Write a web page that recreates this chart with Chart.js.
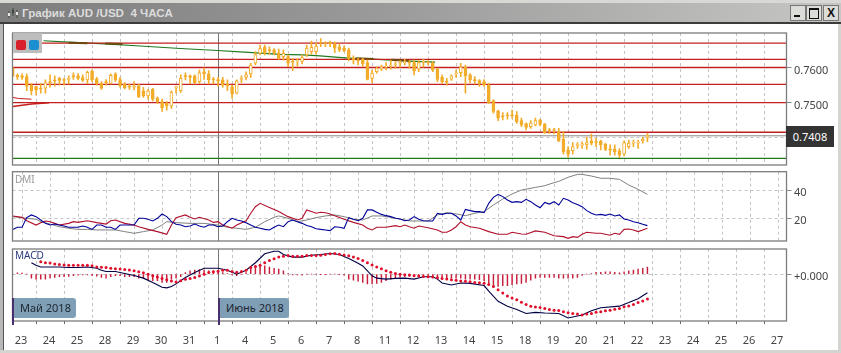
<!DOCTYPE html>
<html><head><meta charset="utf-8">
<script src="https://cdn.jsdelivr.net/npm/chart.js@4"></script>
<style>
html,body{margin:0;padding:0;background:#fff;overflow:hidden}
#w{position:relative;width:841px;height:353px;background:#fff;font-family:"Noto Sans",sans-serif}
canvas{position:absolute;left:0}
.a{position:absolute}
#title{left:0;top:3px;width:841px;height:19px;background:linear-gradient(90deg,#7d7d7d 0%,#9a9a9a 45%,#c6c6c4 100%);border-bottom:2px solid #3c3c3c}
#tt{left:22px;top:3px;height:19px;font:bold 11.6px/19px "Liberation Sans",sans-serif;color:#dcdcdc;white-space:pre}
.b{top:5px;width:14px;height:14px;background:#dcdcd8;border:1px solid #777;font:bold 12px/14px "Liberation Sans",sans-serif;text-align:center;color:#111}
.tag{top:298px;height:20px;background:#7f9fb6;border-radius:0 3px 3px 0;font:11px/20px "Noto Sans",sans-serif;color:#1c2530;padding-left:7px;box-sizing:border-box;white-space:nowrap}
.pb{top:298px;width:2px;height:27px;background:#4a2f6e}
</style></head><body><div id="w">
<div class="a" style="left:0;top:0;width:841px;height:3px;background:#d8d8d4"></div>
<div class="a" style="left:0;top:3px;width:3px;height:347px;background:#b8b8b8;border-right:1px solid #555"></div>
<div class="a" style="left:838px;top:22px;width:3px;height:328px;background:#d4d4d0"></div>
<div class="a" style="left:0;top:350px;width:841px;height:3px;background:#d4d4d0"></div>
<div class="a" id="title"></div>
<svg class="a" style="left:7px;top:6px" width="13" height="14"><path d="M2 5v7M6 2v8M10 4v8" stroke="#3a4a3a" stroke-width="1" fill="none"/><rect x="1" y="7" width="2" height="3" fill="#e8e8e8"/><rect x="5" y="4" width="2" height="3" fill="#3a4a3a"/><rect x="9" y="6" width="2" height="3" fill="#e8e8e8"/></svg>
<div class="a" id="tt">График AUD /USD  4 ЧАСА</div>
<div class="a b" style="left:790px"><div class="a" style="left:3px;top:9px;width:6px;height:2px;background:#111"></div></div>
<div class="a b" style="left:806px"><div class="a" style="left:2px;top:2px;width:8px;height:8px;border:1px solid #111;border-top-width:2px"></div></div>
<div class="a b" style="left:823px">X</div>
<canvas id="c1" width="841" height="170" style="top:0"></canvas>
<canvas id="c2" width="841" height="75" style="top:170px"></canvas>
<canvas id="c3" width="841" height="105" style="top:245px"></canvas>
<div class="a" style="left:13px;top:33px;width:29px;height:20px;background:#bdbdbd"></div>
<div class="a" style="left:16px;top:40px;width:10px;height:10px;border-radius:2px;background:#d8202c"></div>
<div class="a" style="left:29px;top:40px;width:10px;height:10px;border-radius:2px;background:#1c8fd0"></div>
<div class="a" style="left:786px;top:126px;width:48px;height:21px;background:#333;color:#fff;font:11px/21px 'Noto Sans',sans-serif;text-align:center">0.7408</div>
<div class="a" style="left:15px;top:172px;font:10px/14px 'Noto Sans',sans-serif;color:#999">DMI</div>
<div class="a" style="left:15px;top:248px;font:10px/14px 'Noto Sans',sans-serif;color:#2a3a7a">MACD</div>
<div class="a tag" style="left:13px;width:63px">Май 2018</div><div class="a pb" style="left:12px"></div>
<div class="a tag" style="left:219px;width:70px">Июнь 2018</div><div class="a pb" style="left:218px"></div>
</div>
<script>
const dayLabels=[23,24,25,28,29,30,31,1,4,5,6,7,8,11,12,13,14,15,18,19,20,21,22,23,24,25,26,27];
const dayTickIndex=[2,8,14,20,26,32,38,44,50,56,62,68,74,80,86,92,98,104,110,116,122,128,134,140,146,152,158,164];
const opens=[.7598,.7578,.7576,.7574,.7550,.7546,.7541,.7541,.7560,.7565,.7569,.7565,.7566,.7576,.7576,.7571,.7565,.7589,.7568,.7555,.7560,.7555,.7582,.7566,.7553,.7548,.7544,.7548,.7534,.7519,.7538,.7513,.7503,.7498,.7491,.7542,.7534,.7576,.7576,.7576,.7560,.7588,.7582,.7566,.7566,.7565,.7553,.7546,.7527,.7566,.7572,.7582,.7612,.7640,.7657,.7648,.7650,.7642,
.7631,.7631,.7617,.7619,.7617,.7636,.7645,.7645,.7671,.7669,.7669,.7667,.7659,.7655,.7650,.7626,.7621,.7623,.7614,.7569,.7588,.7595,.7601,.7604,.7607,.7612,.7614,.7614,.7614,.7595,.7615,.7615,.7612,.7595,.7572,.7560,.7567,.7582,.7585,.7601,.7579,.7566,.7563,.7560,.7550,.7506,.7477,.7463,.7465,.7465,.7465,.7449,.7441,.7432,.7437,.7451,.7440,.7423,.7423,.7418,
.7396,.7366,.7364,.7378,.7379,.7380,.7392,.7389,.7391,.7382,.7368,.7368,.7363,.7354,.7375,.7385,.7385,.7392,.7402];
const closes=[.7576,.7574,.7572,.7547,.7534,.7536,.7539,.7557,.7557,.7562,.7563,.7563,.7569,.7574,.7569,.7564,.7586,.7565,.7553,.7541,.7557,.7578,.7565,.7548,.7542,.7544,.7548,.7517,.7519,.7534,.7510,.7502,.7486,.7491,.7530,.7544,.7569,.7574,.7572,.7557,.7585,.7582,.7565,.7565,.7562,.7550,.7547,.7524,.7562,.7569,.7579,.7607,.7637,.7654,.7640,.7647,.7642,.7626,
.7640,.7612,.7615,.7621,.7628,.7655,.7657,.7661,.7669,.7667,.7668,.7655,.7650,.7648,.7626,.7621,.7619,.7610,.7566,.7584,.7598,.7602,.7602,.7607,.7609,.7614,.7616,.7612,.7591,.7614,.7617,.7613,.7593,.7566,.7560,.7558,.7576,.7585,.7601,.7576,.7565,.7562,.7555,.7550,.7500,.7475,.7456,.7460,.7463,.7463,.7446,.7437,.7430,.7443,.7449,.7438,.7415,.7420,.7421,.7392,
.7361,.7354,.7375,.7380,.7383,.7387,.7385,.7387,.7380,.7367,.7366,.7361,.7351,.7387,.7385,.7387,.7387,.7396,.7408];
const highs=[.7600,.7582,.7582,.7582,.7555,.7547,.7555,.7565,.7579,.7576,.7572,.7569,.7576,.7585,.7583,.7579,.7590,.7593,.7572,.7560,.7566,.7582,.7585,.7572,.7557,.7553,.7560,.7553,.7544,.7538,.7541,.7517,.7510,.7503,.7534,.7547,.7579,.7585,.7579,.7579,.7593,.7598,.7591,.7572,.7572,.7572,.7565,.7550,.7565,.7576,.7588,.7612,.7645,.7664,.7664,.7659,.7654,.7652,
.7650,.7636,.7626,.7626,.7636,.7664,.7675,.7671,.7682,.7673,.7675,.7673,.7667,.7661,.7655,.7633,.7626,.7626,.7621,.7593,.7602,.7607,.7614,.7621,.7617,.7620,.7623,.7620,.7621,.7620,.7623,.7620,.7617,.7598,.7579,.7569,.7579,.7593,.7612,.7607,.7583,.7574,.7566,.7566,.7555,.7508,.7479,.7472,.7472,.7479,.7475,.7456,.7443,.7449,.7456,.7453,.7441,.7427,.7427,.7427,
.7418,.7375,.7387,.7387,.7389,.7402,.7411,.7399,.7394,.7385,.7380,.7380,.7370,.7392,.7394,.7394,.7394,.7402,.7412];
const lows=[.7574,.7566,.7566,.7534,.7522,.7522,.7527,.7527,.7544,.7547,.7550,.7550,.7553,.7566,.7565,.7560,.7555,.7560,.7550,.7538,.7550,.7553,.7560,.7544,.7539,.7538,.7536,.7514,.7515,.7510,.7505,.7498,.7475,.7479,.7484,.7527,.7529,.7565,.7555,.7553,.7555,.7566,.7553,.7553,.7547,.7544,.7534,.7512,.7525,.7557,.7565,.7572,.7607,.7636,.7636,.7638,.7636,.7623,
.7621,.7602,.7591,.7604,.7610,.7631,.7638,.7638,.7659,.7659,.7659,.7642,.7645,.7645,.7619,.7610,.7607,.7604,.7565,.7557,.7584,.7591,.7593,.7595,.7598,.7601,.7607,.7598,.7579,.7588,.7601,.7607,.7588,.7560,.7555,.7550,.7563,.7572,.7574,.7527,.7557,.7553,.7546,.7546,.7498,.7470,.7449,.7451,.7453,.7456,.7441,.7432,.7423,.7427,.7434,.7434,.7413,.7413,.7411,.7389,
.7354,.7345,.7354,.7370,.7370,.7367,.7380,.7375,.7366,.7364,.7351,.7351,.7344,.7349,.7370,.7375,.7370,.7385,.7389];
const redLevels=[.7669,.7623,.7600,.7552,.7500,.7416];
const greenLevel=.7342;
const lastPrice=.7406;
const trendA=[[0,.7515],[1.2,.7512],[4,.7510]];
const trendB=[[0,.7489],[4,.7496],[7.8,.7500]];
const trendGreen=[[6.6,.7676],[12,.7672],[19.8,.7667],[27.3,.7661],[35.9,.7654],[43,.7649],[50.5,.7643],[57.3,.7637],[62.2,.7636],[65.8,.7633],[69.8,.7629],[73.6,.7625],[77.3,.7624],[81,.7621],[85,.7618],[90.5,.7615]];
const trendBrown=[[12,.7670],[16,.7669],null,[19.8,.7668],[23.5,.7667],null,[73.5,.7626],[77.3,.7624],null,[81,.7622],[85,.7619]];
const dmiBlue=[12.1,13.6,13.6,20.5,22.4,21.2,18.8,16.4,15.2,15.9,15.2,14.5,13.6,13.6,13.6,14.5,13.6,12.1,15.2,15.2,13.6,13.6,12.1,15.2,15.2,15.2,15.2,20,20,19.3,18.1,20,23.1,21.2,17.6,15.7,15.2,14,14.5,15.9,14.5,13.6,15.2,15.2,14,14.5,17.6,20,18.8,18.1,16.9,15.2,13.6,12.9,12.1,11.7,13.6,15.2,
14,17.6,18.8,17.6,16.4,14.8,14,12.6,12.1,11.7,11.2,14,13.6,12.9,20.5,19.3,18.3,20,26,26,24.3,22.8,21.9,21.2,20,19.5,18.3,18.8,21.2,19.3,18.3,18.1,18.1,23.6,22.8,23.6,23.6,21.7,18.8,26.4,25.5,24.8,24.8,24,30.7,35,37.1,35.5,33.1,31.4,31.9,31.4,33.6,31.9,29.5,27.6,31.4,30.2,31.9,29.5,
34.3,33.1,31.2,29.8,28.3,25.5,23.6,22.4,22.8,22.1,23.1,21.7,22.4,19.5,18.8,17.6,16.9,15.7,14.8];
const dmiGrayIdx=[0,3,5,6,8,10,12,14,16,18,20,22,24,26,28,30,32,33,35,38,41,44,46,48,50,52,54,56,57,59,61,63,65,67,69,71,73,75,77,79,81,83,85,87,89,91,93,95,97,99,101,103,105,107,109,112,114,116,117,119,121,122,124,126,128,130,132,134,136];
const dmiGrayVal=[21.2,20,19.3,17.6,15.9,14,12.9,12.1,12.1,11.7,11.7,11.7,10.5,9.3,10.5,11.7,15.2,17.6,16.9,16.4,16.4,15.2,13.6,12.9,12.1,13.6,17.6,20.7,21.7,20,17.6,18.8,20.5,21.7,22.4,21.2,19.3,18.8,21.7,21.7,20.7,19.5,18.1,18.1,18.1,22.4,24,23.1,21.9,23.6,24.8,29.5,33.8,37.4,40.2,42.1,43.3,45.5,46.4,49.3,51.4,51.4,50.2,48.6,48.6,47.8,43.8,40.7,37.1];
const dmiRedIdx=[0,2,3,5,6,7,8,9,10,12,13,14,16,18,20,21,22,24,26,27,29,31,33,34,35,37,38,39,40,42,43,44,45,47,48,50,51,52,53,55,57,59,61,62,63,64,65,66,67,68,69,71,73,75,76,77,78,79,80,82,83,84,85,86,87,89,91,92,93,94,95,96,97,98,100,102,104,106,107,109,110,112,114,116,118,119,120,121,122,123,125,126,127,128,129,130,131,132,133,134,135,136];
const dmiRedVal=[21.7,20.7,18.3,15.2,16.9,18.1,17.6,16.4,15.2,16.4,17.6,17.1,18.3,16.9,15.9,18.3,18.8,16.4,15.2,14,12.1,10.5,8.6,15.2,20.5,22.4,20.7,19.5,20.7,18.8,17.1,17.6,15.2,12.9,15.2,18.3,23.6,28.3,30.7,27.8,24.8,21.2,18.8,20,26,24.8,23.6,24.3,24,23.1,21.9,19.3,17.1,15.2,12.9,11.7,13.6,13.6,13.6,14.8,14,15.2,14,12.9,14.5,13.3,11.7,10,10,11.7,14,17.6,15.2,14,12.9,10.5,8.6,8.6,10,8.8,8.6,11,10,7.6,6.9,5.7,6.9,6.4,8.6,10,9.3,9.3,8.6,7.9,9.3,8.6,12.1,12.4,11.7,10.5,11.7,12.9];
const macdIdx=[4,5,6,8,10,12,14,16,18,19,20,22,24,26,28,30,32,33,34,35,37,39,41,44,46,48,50,52,54,56,57,58,60,62,64,66,68,70,72,74,75,76,77,78,80,82,84,86,88,90,91,92,94,96,98,101,102,104,106,108,110,112,114,117,119,122,124,126,130,132,134,136];
const macdLine=[.83,.64,.52,.52,.52,.48,.48,.52,.43,.29,.19,.19,.05,-.10,-.29,-.60,-.95,-1,-.90,-.71,-.24,.12,.43,.43,.29,0,.29,.83,1.48,1.67,1.67,1.43,1.24,1.24,1.38,1.43,1.5,1.43,1.14,.79,.6,.24,-.12,-.29,-.36,-.31,-.29,-.36,-.19,-.19,-.36,-.64,-.79,-.64,-.67,-.83,-1.24,-1.98,-2.33,-2.57,-2.86,-2.78,-2.83,-2.86,-3.19,-2.98,-2.67,-2.45,-2.33,-2.07,-1.79,-1.36];
const signalStart=6;
const macdSignal=[.90,.83,.81,.74,.71,.67,.64,.64,.64,.64,.64,.62,.52,.50,.48,.43,.40,.38,.33,.31,.24,.17,.10,0,-.12,-.21,-.31,-.40,-.50,-.57,-.48,-.38,-.31,-.24,-.14,0,.12,.17,.21,.29,.29,.19,.14,.19,.29,.48,.55,.64,.83,1,1.12,1.24,
1.31,1.36,1.31,1.31,1.31,1.36,1.36,1.36,1.38,1.43,1.48,1.50,1.45,1.40,1.33,1.24,1.14,1,.83,.67,.52,.40,.24,.14,.05,0,-.05,-.07,-.12,-.14,-.17,-.19,-.21,-.26,-.31,-.36,-.40,-.45,-.50,-.52,-.55,-.60,-.62,-.67,-.76,-.90,-1.14,-1.38,-1.59,-1.74,-1.86,-2.05,-2.21,-2.33,-2.40,-2.43,-2.50,-2.57,-2.62,-2.64,
-2.74,-2.81,-2.86,-2.90,-2.98,-2.90,-2.86,-2.78,-2.74,-2.67,-2.62,-2.55,-2.50,-2.38,-2.31,-2.21,-2.07,-1.95,-1.81];
const macdHist=[0,.10,.07,0,-.29,-.36,-.36,-.36,-.29,-.24,-.19,-.19,-.17,-.12,-.07,-.05,-.05,-.12,-.14,-.24,-.29,-.19,-.12,-.12,-.19,-.19,-.19,-.29,-.31,-.40,-.48,-.48,-.60,-.60,-.36,-.29,-.19,.12,.24,.29,.33,.29,.24,.24,.19,.12,.05,-.05,-.12,0,.12,.36,.48,.60,.60,.52,.43,.36,
.24,.02,-.05,-.05,-.07,0,0,0,-.02,-.02,0,0,-.02,-.07,-.36,-.43,-.52,-.60,-.71,-.71,-.67,-.60,-.48,-.36,-.29,-.24,-.19,-.17,-.14,-.12,-.10,-.10,-.12,-.19,-.24,-.29,-.29,-.29,-.29,-.36,-.36,-.36,-.40,-.48,-.71,-.83,-.90,-.83,-.83,-.76,-.71,-.67,-.60,-.43,-.29,-.24,-.24,-.24,-.24,-.29,
-.29,-.29,-.29,-.24,-.10,0,.05,.14,.14,.17,.17,.14,.10,.17,.24,.29,.36,.43,.52];
const juneIndex=44;

const XMIN=-.05,XMAX=165.8,ORANGE='#f2ac2a',GRID='#c4c4c4',FONT={family:'"Noto Sans",sans-serif',size:11};
Chart.defaults.animation=false;Chart.defaults.responsive=false;Chart.defaults.events=[];
const pad=a=>a.map(p=>p?{x:p[0],y:p[1]}:{x:null,y:null});
const frame={id:'frame',afterDraw(c){const a=c.chartArea,x=c.ctx;x.save();x.strokeStyle='#7c7c7c';x.lineWidth=1.3;x.strokeRect(a.left,a.top,a.width,a.height);x.restore();}};
const sep={id:'sep',beforeDatasetsDraw(c){const s=c.scales.x,a=c.chartArea,x=c.ctx,p=Math.round(s.getPixelForValue(juneIndex))+.5;x.save();x.strokeStyle='#777';x.beginPath();x.moveTo(p,a.top);x.lineTo(p,a.bottom);x.stroke();x.restore();}};
const noPad=s=>{s.paddingLeft=s.paddingRight=s.paddingTop=s.paddingBottom=0};
function xAxis(labels){return{type:'linear',min:XMIN,max:XMAX,offset:false,
 afterBuildTicks:s=>{s.ticks=dayTickIndex.map(v=>({value:v}))},
 afterFit:s=>{s.height=labels?29:0;noPad(s)},
 grid:{color:GRID,drawTicks:labels,tickLength:3,tickColor:'#666',tickBorderDash:[]},
 border:{display:false,dash:[3,3]},
 ticks:{display:labels,autoSkip:false,maxRotation:0,minRotation:0,color:'#444',font:FONT,padding:10,labelOffset:-1,callback:(v,i)=>dayLabels[i]}};}
function yAxis(min,max,vals,cb){return{type:'linear',position:'right',min,max,
 afterBuildTicks:s=>{s.ticks=vals.map(v=>({value:v}))},
 afterFit:s=>{s.width=54.5;noPad(s)},
 grid:{color:GRID,tickLength:5,tickColor:'#888',tickBorderDash:[]},
 border:{display:false,dash:[3,3]},
 ticks:{color:'#444',font:FONT,padding:2.5,labelOffset:3,callback:cb}};}
const line=(data,color,w,order,extra)=>Object.assign({type:'line',data,borderColor:color,borderWidth:w,pointRadius:0,tension:0,order,spanGaps:false},extra||{});
const hline=(v,color,w,order)=>line([{x:XMIN,y:v},{x:XMAX,y:v}],color,w,order);
const opts=(x,y,top,bottom)=>({layout:{padding:{left:12.5,right:0,top,bottom}},plugins:{legend:{display:false},tooltip:{enabled:false}},scales:{x,y}});

const isUp=i=>closes[i]>=opens[i];
new Chart('c1',{plugins:[sep,frame],data:{datasets:[
 {type:'bar',data:opens.map((o,i)=>({x:i,y:[Math.min(o,closes[i]),Math.max(o,closes[i])]})),grouped:false,barThickness:3,minBarLength:1,backgroundColor:c=>isUp(c.dataIndex)?'#fff':ORANGE,borderColor:ORANGE,borderWidth:1,borderSkipped:false,order:1},
 {type:'bar',data:highs.map((h,i)=>({x:i,y:[lows[i],h]})),grouped:false,barThickness:1,backgroundColor:ORANGE,borderWidth:0,order:2},
 ...redLevels.map(v=>hline(v,'#c41e1e',1.3,3)),
 hline(greenLevel,'#1f7a1f',1.3,3),
 hline(lastPrice,'#8a8a8a',1,4),
 line(pad(trendA),'#c41e1e',1,3),line(pad(trendB),'#c41e1e',1.5,3),
 line(pad(trendBrown),'#6e4a10',2,2.5),
 line(pad(trendGreen),'#1f7a1f',1.2,3.5)
]},options:opts(xAxis(false),yAxis(.7323,.7698,[.74,.75,.76],v=>v===.74?'':v.toFixed(4)),33,5)});

new Chart('c2',{plugins:[sep,frame],data:{datasets:[
 line(dmiGrayIdx.map((x,i)=>({x,y:dmiGrayVal[i]})),'#808080',1,3),
 line(dmiRedIdx.map((x,i)=>({x,y:dmiRedVal[i]})),'#b0102c',1.1,2),
 line(dmiBlue.map((y,x)=>({x,y})),'#000099',1.1,1)
]},options:opts(xAxis(false),yAxis(3.8,53.3,[20,40],v=>String(v)),1.7,4)});

new Chart('c3',{plugins:[sep,frame],data:{datasets:[
 {type:'bar',data:macdHist.map((y,x)=>({x,y:[0,y]})),grouped:false,barThickness:.8,backgroundColor:'#c8203c',borderWidth:0,order:3},
 line(macdIdx.map((x,i)=>({x,y:macdLine[i]})),'#000044',1.1,2),
 line(macdSignal.map((y,i)=>({x:i+signalStart,y})),'#e0102c',0,1,{showLine:false,pointRadius:1.5,pointBackgroundColor:'#e0102c',pointBorderWidth:0}),
]},options:opts(xAxis(true),yAxis(-3.41,1.83,[0],()=>'+0.000'),2.7,0)});
</script></body></html>
